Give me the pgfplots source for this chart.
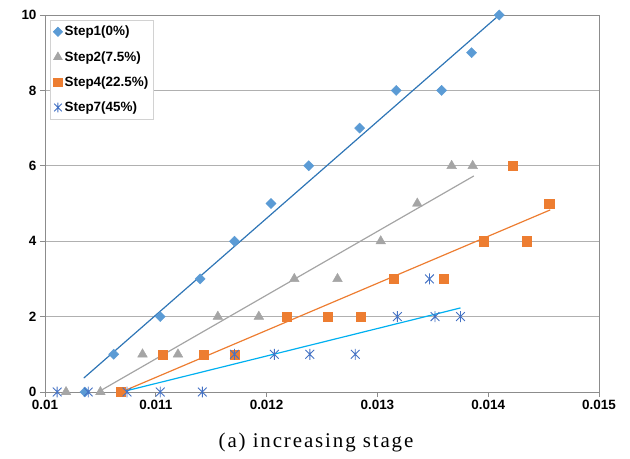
\documentclass[border=0pt]{standalone}
\usepackage{fontspec}
\setmainfont{Liberation Sans}
\newfontfamily\capfont[LetterSpace=9]{Liberation Serif}
\usepackage{pgfplots}
\pgfplotsset{compat=1.18}
\definecolor{cA}{HTML}{5B9BD5}
\definecolor{cAt}{HTML}{2E75B6}
\definecolor{cB}{HTML}{A5A5A5}
\definecolor{cC}{HTML}{ED7D31}
\definecolor{cD}{HTML}{4472C4}
\definecolor{cDt}{HTML}{00B0F0}
\definecolor{gridc}{HTML}{B0B0B0}
\definecolor{axc}{HTML}{8C8C8C}
\pgfdeclareplotmark{xstar}{%
  \pgfpathmoveto{\pgfqpoint{0pt}{\pgfplotmarksize}}%
  \pgfpathlineto{\pgfqpoint{0pt}{-\pgfplotmarksize}}%
  \pgfpathmoveto{\pgfqpoint{-.8\pgfplotmarksize}{.8\pgfplotmarksize}}%
  \pgfpathlineto{\pgfqpoint{.8\pgfplotmarksize}{-.8\pgfplotmarksize}}%
  \pgfpathmoveto{\pgfqpoint{-.8\pgfplotmarksize}{-.8\pgfplotmarksize}}%
  \pgfpathlineto{\pgfqpoint{.8\pgfplotmarksize}{.8\pgfplotmarksize}}%
  \pgfusepathqstroke}
\begin{document}
\begin{tikzpicture}
\useasboundingbox (0,0) rectangle (630bp,459bp);
\begin{axis}[
  at={(45bp,67bp)}, anchor=south west,
  scale only axis, width=554bp, height=377bp,
  xmin=0.01, xmax=0.015, ymin=0, ymax=10,
  xtick={0.01,0.011,0.012,0.013,0.014,0.015},
  xticklabels={0.01,0.011,0.012,0.013,0.014,0.015},
  ytick={0,2,4,6,8,10},
  scaled x ticks=false,
  axis line style={axc, line width=0.8pt},
  tick style={axc, line width=0.8pt},
  tick align=outside, major tick length=5bp,
  xtick pos=bottom, ytick pos=left,
  ymajorgrids, grid style={gridc, line width=0.8pt},
  tick label style={font=\bfseries\fontsize{13.5}{15}\selectfont},
  /pgf/number format/assume math mode=true,
  legend style={at={(rel axis cs:0.009,0.987)}, anchor=north west,
    draw=gray!35, line width=0.6pt, font=\bfseries\fontsize{13.5}{15}\selectfont,
    row sep=10bp, inner xsep=3bp, inner ysep=4bp},
  legend cell align=left,
  clip=false,
]
\addplot[only marks, mark=square*, mark options={rotate=45, fill=cA, draw=cA}, mark size=3.6pt,
  legend image post style={mark size=3.3pt}]
coordinates {(0.01036,0) (0.01062,1) (0.01104,2) (0.0114,3) (0.01171,4) (0.01204,5) (0.01238,6) (0.01284,7) (0.01317,8) (0.01358,8) (0.01385,9) (0.0141,10)};
\addlegendentry{Step1(0\%)}
\addplot[only marks, mark=triangle*, mark options={fill=cB, draw=cB}, mark size=5.6pt,
  legend image post style={mark size=5pt}]
coordinates {(0.01019,0) (0.0105,0) (0.01088,1) (0.0112,1) (0.01156,2) (0.01193,2) (0.01225,3) (0.01264,3) (0.01303,4) (0.01336,5) (0.01367,6) (0.01386,6)};
\addlegendentry{Step2(7.5\%)}
\addplot[only marks, mark=square*, mark options={fill=cC, draw=cC}, mark size=4.6pt,
  legend image post style={mark size=4.2pt}]
coordinates {(0.01068,0) (0.01106,1) (0.01143,1) (0.01171,1) (0.01218,2) (0.01255,2) (0.01285,2) (0.01315,3) (0.0136,3) (0.01396,4) (0.01435,4) (0.01422,6) (0.01455,5)};
\addlegendentry{Step4(22.5\%)}
\addplot[only marks, mark=xstar, mark options={draw=cD, line width=0.9pt}, mark size=5.5pt,
  legend image post style={mark size=4.8pt}]
coordinates {(0.01011,0) (0.01039,0) (0.01074,0) (0.01104,0) (0.01142,0) (0.01171,1) (0.01207,1) (0.01239,1) (0.0128,1) (0.01318,2) (0.01347,3) (0.01352,2) (0.01375,2)};
\addlegendentry{Step7(45\%)}
\addplot[forget plot, cAt, line width=1.2pt] coordinates {(0.01035,0.37) (0.0141,10)};
\addplot[forget plot, cB, line width=1.2pt] coordinates {(0.01048,0) (0.01387,5.73)};
\addplot[forget plot, cC, line width=1.2pt] coordinates {(0.01069,0) (0.01456,4.83)};
\addplot[forget plot, cDt, line width=1.2pt] coordinates {(0.01069,0) (0.01375,2.23)};
\end{axis}
\node[anchor=base, font=\capfont\fontsize{21}{24}\selectfont] at (316bp,12bp) {(a) increasing stage};
\end{tikzpicture}
\end{document}
